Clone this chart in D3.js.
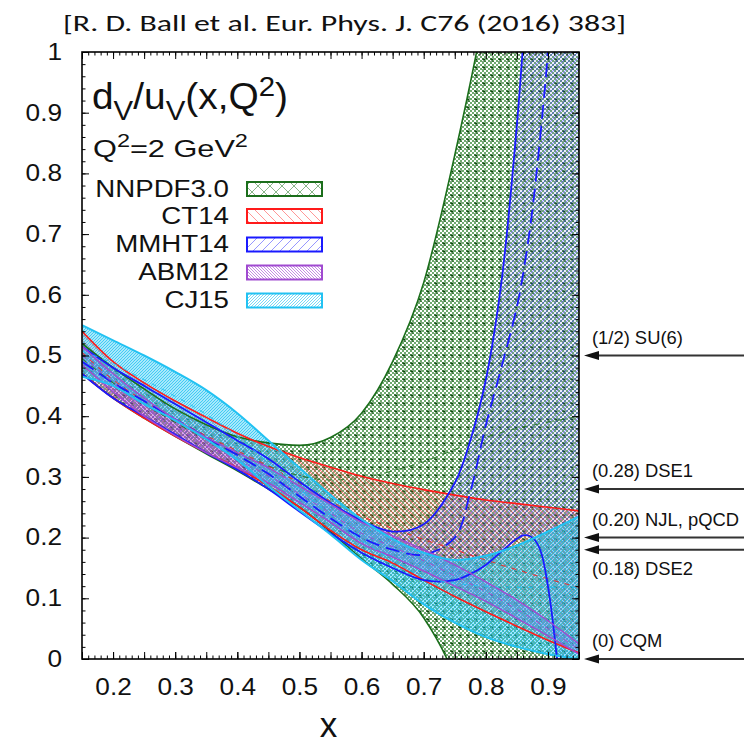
<!DOCTYPE html>
<html><head><meta charset="utf-8">
<script src="https://cdn.jsdelivr.net/npm/d3@7"></script>
<style>body{margin:0;background:#fff}text{font-family:"Liberation Sans",Arial,Helvetica,sans-serif;fill:#111}</style>
</head><body>
<svg id="c" width="744" height="744"></svg>
<script>
// ---------------- data ----------------
const xGrid = [0.15,0.2,0.25,0.3,0.35,0.4,0.45,0.5,0.55,0.6,0.65,0.7,0.75,0.8,0.85,0.9,0.95];
// NNPDF3.0
const nnLo  = [0.47,0.43,0.397,0.367,0.338,0.31,0.28,0.25,0.21,0.165,0.123,0.068,-0.03,-0.2,-0.5,-0.9,-1.4];
const nnHi  = [0.52,0.48,0.445,0.412,0.386,0.366,0.356,0.352,0.365,0.405,0.49,0.62,0.83,1.08,1.4,1.8,2.3];
const nnMid = [0.495,0.455,0.42,0.39,0.362,0.338,0.318,0.302,0.295,0.298,0.31,0.325,0.345,0.365,0.38,0.39,0.4];
// CT14
const ctLo  = [0.47,0.43,0.397,0.367,0.34,0.315,0.285,0.25,0.212,0.18,0.158,0.13,0.103,0.078,0.054,0.031,0.01];
const ctHi  = [0.54,0.49,0.455,0.425,0.398,0.372,0.35,0.332,0.316,0.301,0.289,0.279,0.27,0.262,0.256,0.25,0.244];
const ctMid = [0.505,0.46,0.425,0.395,0.368,0.343,0.318,0.29,0.26,0.235,0.215,0.197,0.18,0.163,0.147,0.132,0.118];
// MMHT14 (finer grid at high x)
const xMM   = [0.15,0.2,0.25,0.3,0.35,0.4,0.45,0.5,0.55,0.6,0.65,0.7,0.75,0.775,0.8,0.825,0.85,0.8625,0.875,0.8875,0.9,0.9125,0.925,0.95];
const mmLo  = [0.47,0.43,0.4,0.37,0.34,0.312,0.28,0.243,0.207,0.175,0.15,0.13,0.13,0.14,0.155,0.177,0.198,0.204,0.2,0.18,0.12,0.02,-0.12,-0.5];
const mmHi  = [0.515,0.48,0.45,0.42,0.39,0.36,0.33,0.292,0.257,0.228,0.21,0.222,0.29,0.36,0.46,0.62,0.88,1.05,1.25,1.5,1.75,2.05,2.4,3.2];
const mmMid = [0.49,0.455,0.425,0.395,0.365,0.336,0.305,0.268,0.232,0.2,0.18,0.172,0.2,0.275,0.385,0.48,0.58,0.65,0.74,0.86,1.0,1.2,1.4,2.0];
// ABM12
const abLo  = [0.485,0.44,0.4,0.368,0.34,0.315,0.29,0.258,0.225,0.19,0.168,0.145,0.12,0.095,0.067,0.038,0.008];
const abHi  = [0.515,0.47,0.43,0.395,0.365,0.34,0.315,0.285,0.255,0.225,0.203,0.18,0.155,0.127,0.097,0.063,0.025];
const abMid = [0.5,0.455,0.415,0.382,0.352,0.328,0.302,0.272,0.24,0.207,0.185,0.162,0.137,0.111,0.082,0.05,0.016];
// CJ15
const cjLo  = [0.465,0.45,0.42,0.393,0.362,0.328,0.285,0.245,0.205,0.163,0.128,0.09,0.06,0.036,0.02,0.008,0.0];
const cjHi  = [0.55,0.525,0.5,0.473,0.443,0.405,0.36,0.315,0.27,0.23,0.198,0.175,0.163,0.17,0.187,0.21,0.235];
const cjMid = [0.507,0.487,0.46,0.433,0.403,0.367,0.323,0.28,0.237,0.196,0.163,0.135,0.125,0.12,0.118,0.118,0.118];

const seriesNames = ["NNPDF3.0","CT14","MMHT14","ABM12","CJ15"];
const xTickLabels = [0.2,0.3,0.4,0.5,0.6,0.7,0.8,0.9];
const yTickLabels = [0,0.1,0.2,0.3,0.4,0.5,0.6,0.7,0.8,0.9,1];
const refValues = [0.5,0.28,0.20,0.18,0];
const refLabels = ["(1/2) SU(6)","(0.28) DSE1","(0.20) NJL, pQCD","(0.18) DSE2","(0) CQM"];
const refLabelSide = [-1,-1,-1,1,-1];

// ---------------- setup ----------------
const svg = d3.select("#c");
const W0=82, W1=579, H0=52, H1=659;
const x = d3.scaleLinear().domain([0.15,0.95]).range([W0,W1]);
const y = d3.scaleLinear().domain([0,1]).range([H1,H0]);
const defs = svg.append("defs");
defs.append("clipPath").attr("id","clip").append("rect")
  .attr("x",W0).attr("y",H0).attr("width",W1-W0).attr("height",H1-H0);

function hatch(id, color, s, dir, sw, op, tint, tintOp){
  const p = defs.append("pattern").attr("id",id).attr("patternUnits","userSpaceOnUse")
    .attr("width",s).attr("height",s);
  if (tint) p.append("rect").attr("width",s).attr("height",s).attr("fill",tint).attr("fill-opacity",tintOp);
  const d = dir>0
    ? `M0,${s} L${s},0 M${-s/2},${s/2} L${s/2},${-s/2} M${s/2},${s*1.5} L${s*1.5},${s/2}`
    : `M0,0 L${s},${s} M${-s/2},${s/2} L${s/2},${s*1.5} M${s/2},${-s/2} L${s*1.5},${s/2}`;
  p.append("path").attr("d",d).attr("stroke",color).attr("stroke-width",sw).attr("stroke-opacity",op).attr("fill","none");
}
// NNPDF checker pattern (in plot)
{
  const p = defs.append("pattern").attr("id","pNN").attr("patternUnits","userSpaceOnUse").attr("width",8).attr("height",8);
  p.append("rect").attr("width",8).attr("height",8).attr("fill","#ffffff");
  for (let i=0;i<4;i++) for (let j=0;j<4;j++) if ((i+j)%2===0)
    p.append("rect").attr("x",i*2).attr("y",j*2).attr("width",2).attr("height",2).attr("fill","#3d8c3d").attr("fill-opacity",0.75);
  p.append("path").attr("d","M2.5,2.5 L5.5,5.5 M5.5,2.5 L2.5,5.5").attr("stroke","#0a4a0a").attr("stroke-width",1.4);
}
hatch("pCT","#ff2a2a",6,-1,1,0.55,"#ff6060",0.14);
hatch("pMM","#3030ff",6,1,1,0.5,"#7070ff",0.14);
hatch("pAB","#a040d0",3,-1,1.1,0.7,"#b070e0",0.12);
hatch("pCJ","#18bff0",3,1,1.2,0.8,"#40d0ff",0.22);
// legend patterns
{
  const p = defs.append("pattern").attr("id","lNN").attr("patternUnits","userSpaceOnUse").attr("width",12).attr("height",12);
  p.append("path").attr("d","M0,0 L12,12 M12,0 L0,12").attr("stroke","#2a7a2a").attr("stroke-opacity",0.55).attr("stroke-width",1);
}
hatch("lCT","#ff3030",9,-1,1,0.5,null,0);
hatch("lMM","#3030ff",9,1,1,0.5,null,0);
hatch("lAB","#a040d0",3,-1,1,0.6,null,0);
hatch("lCJ","#20c0f0",3,1,1,0.6,null,0);

const bands = [
  {xs:xGrid, lo:nnLo, hi:nnHi, mid:nnMid, color:"#1b6e1b", fill:"url(#pNN)", leg:"url(#lNN)", curve:d3.curveMonotoneX, lw:1.6, dash:"6,6"},
  {xs:xGrid, lo:ctLo, hi:ctHi, mid:ctMid, color:"#ff1a1a", fill:"url(#pCT)", leg:"url(#lCT)", curve:d3.curveMonotoneX, lw:1.6, dash:"5,6"},
  {xs:xMM,   lo:mmLo, hi:mmHi, mid:mmMid, color:"#1a1aff", fill:"url(#pMM)", leg:"url(#lMM)", curve:d3.curveCatmullRom, lw:1.8, dash:"14,7"},
  {xs:xGrid, lo:abLo, hi:abHi, mid:abMid, color:"#a04ad0", fill:"url(#pAB)", leg:"url(#lAB)", curve:d3.curveMonotoneX, lw:1.5, dash:"5,6"},
  {xs:xGrid, lo:cjLo, hi:cjHi, mid:cjMid, color:"#22c2f2", fill:"url(#pCJ)", leg:"url(#lCJ)", curve:d3.curveMonotoneX, lw:2, dash:"5,6"}
];

const plot = svg.append("g").attr("clip-path","url(#clip)");
bands.forEach(b=>{
  plot.append("path").attr("d", d3.area().x((d,i)=>x(b.xs[i])).y0((d,i)=>y(b.lo[i])).y1((d,i)=>y(b.hi[i])).curve(b.curve)(b.xs))
    .attr("fill", b.fill);
});
bands.forEach(b=>{
  ["lo","hi"].forEach(k=>{
    plot.append("path").attr("d", d3.line().x((d,i)=>x(b.xs[i])).y((d,i)=>y(b[k][i])).curve(b.curve)(b.xs))
      .attr("fill","none").attr("stroke",b.color).attr("stroke-width",b.lw);
  });
  plot.append("path").attr("d", d3.line().x((d,i)=>x(b.xs[i])).y((d,i)=>y(b.mid[i])).curve(b.curve)(b.xs))
    .attr("fill","none").attr("stroke",b.color).attr("stroke-width", b===bands[2]?1.8:1.1)
    .attr("stroke-dasharray",b.dash).attr("stroke-opacity", b===bands[2]?1:0.8);
});

// ---------------- axes ----------------
const SX = 1.14;
const fmt = d => String(+d.toFixed(2));
const xMajor = d3.range(15,96,5).map(d=>d/100);
const xMinor = d3.range(15,96,1).map(d=>d/100);
const yMajor = yTickLabels;
const yMinor = d3.range(0,101,2).map(d=>d/100);
function ax(gen, tx, ty, vals, size, labels){
  const g = svg.append("g").attr("transform",`translate(${tx},${ty})`)
    .call(gen.tickValues(vals).tickSize(-size).tickFormat(labels?fmt:"").tickPadding(20));
  g.select(".domain").remove();
  g.selectAll("line").attr("stroke","#000").attr("stroke-width",1);
  g.selectAll("text").attr("font-size",23).style("font-family",'"Liberation Sans",Arial,sans-serif').attr("fill","#111");
  return g;
}
const gxb = ax(d3.axisBottom(x), 0, H1, xTickLabels, 7, true);
gxb.selectAll("text").attr("transform",`scale(${SX},1)`);
ax(d3.axisBottom(x), 0, H1, xMajor, 7, false);
ax(d3.axisBottom(x), 0, H1, xMinor, 3.5, false);
ax(d3.axisTop(x), 0, H0, xMajor, 7, false);
ax(d3.axisTop(x), 0, H0, xMinor, 3.5, false);
const gyl = ax(d3.axisLeft(y), W0, 0, yMajor, 7, true);
gyl.selectAll("text").attr("x",-20/SX).attr("transform",`scale(${SX},1)`);
ax(d3.axisLeft(y), W0, 0, yMinor, 3.5, false);
ax(d3.axisRight(y), W1, 0, yMajor, 7, false);
ax(d3.axisRight(y), W1, 0, yMinor, 3.5, false);
svg.append("rect").attr("x",W0).attr("y",H0).attr("width",W1-W0).attr("height",H1-H0)
  .attr("fill","none").attr("stroke","#000").attr("stroke-width",1.6);

function stext(xp, yp, str, size, anchor, sx){
  return svg.append("text").attr("transform",`translate(${xp},${yp}) scale(${sx},1)`)
    .attr("text-anchor",anchor).attr("font-size",size).text(str);
}
function fitWidth(t, target){
  const w = t.node().getBBox().width;
  const tr = t.attr("transform").replace(/scale\([^)]*\)/,"");
  t.attr("transform", tr + ` scale(${target/w},1)`);
}
// axis title
stext((W0+W1)/2 - 2, 737, "x", 35, "middle", 1.0);

// title
svg.append("text").attr("x",63).attr("y",31).attr("font-size",22.5)
  .style("font-family",'Carlito,"Open Sans","Noto Sans",sans-serif')
  .attr("textLength",563).attr("lengthAdjust","spacingAndGlyphs")
  .text("[R. D. Ball et al. Eur. Phys. J. C76 (2016) 383]");

// formula
{
  const t = svg.append("text").attr("transform","translate(92,109) scale(1,1)").attr("font-size",37);
  t.append("tspan").text("d");
  t.append("tspan").attr("font-size",28).attr("dy",11).text("V");
  t.append("tspan").attr("dy",-11).text("/u");
  t.append("tspan").attr("font-size",28).attr("dy",11).text("V");
  t.append("tspan").attr("dy",-11).text("(x,Q");
  t.append("tspan").attr("font-size",28).attr("dy",-13).text("2");
  t.append("tspan").attr("dy",13).text(")");
  fitWidth(t,196);
  const q = svg.append("text").attr("transform","translate(93,157) scale(1,1)").attr("font-size",23.5);
  q.append("tspan").text("Q");
  q.append("tspan").attr("font-size",18).attr("dy",-10).text("2");
  q.append("tspan").attr("dy",10).text("=2 GeV");
  q.append("tspan").attr("font-size",18).attr("dy",-10).text("2");
  fitWidth(q,155);
}

// legend
const legBase = [196.5,223.5,252,280,308];
seriesNames.forEach((n,i)=>{
  stext(229, legBase[i], n, 24.5, "end", 1.13);
  svg.append("rect").attr("x",247).attr("y",legBase[i]-14.5).attr("width",75).attr("height",14)
    .attr("fill","#fff");
  svg.append("rect").attr("x",247).attr("y",legBase[i]-14.5).attr("width",75).attr("height",14)
    .attr("fill",bands[i].leg).attr("stroke",bands[i].color).attr("stroke-width",2);
});

// reference arrows
refValues.forEach((v,i)=>{
  const yy = y(v);
  svg.append("line").attr("x1",596).attr("x2",744).attr("y1",yy).attr("y2",yy)
    .attr("stroke","#333").attr("stroke-width",2);
  svg.append("path").attr("d",`M584,${yy} L599,${yy-4.5} L599,${yy+4.5} Z`).attr("fill","#111");
  const ly = refLabelSide[i] < 0 ? yy-12 : yy+25;
  stext(592, ly, refLabels[i], 17.5, "start", 1.05);
});
</script>
</body></html>
